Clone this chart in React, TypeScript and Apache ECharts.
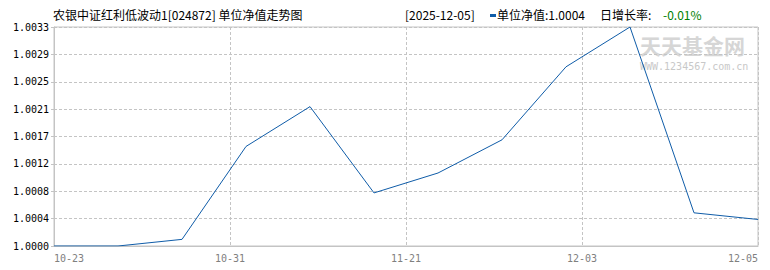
import React, { useEffect, useRef } from "react";
import * as echarts from "echarts";

const fundTitle = "农银中证红利低波动1[024872] 单位净值走势图";
const latestDate = "[2025-12-05]";
const latestNavText = "单位净值:1.0004";
const dailyLabel = "日增长率:";
const dailyChange = "-0.01%";

const dates = ["10-23", "10-24", "10-30", "10-31", "11-07", "11-14", "11-21", "11-28", "12-02", "12-03", "12-04", "12-05"];
const navValues = [1.0, 1.0, 1.0001, 1.0015, 1.0021, 1.0008, 1.0011, 1.0016, 1.0027, 1.0033, 1.0005, 1.0004];
const xTickLabels = ["10-23", "10-31", "11-21", "12-03", "12-05"];
const yTickLabels = ["1.0000", "1.0004", "1.0008", "1.0012", "1.0017", "1.0021", "1.0025", "1.0029", "1.0033"];

const BASE = 1.0;
const SCALE = 10000; // values plotted in units of 0.0001 above BASE
const Y_MAX = 33;
const Y_INTERVAL = Y_MAX / (yTickLabels.length - 1);
const X_MAX = dates.length - 1;
const X_INTERVAL = X_MAX / (xTickLabels.length - 1);

const LINE_COLOR = "#0f5ca8";
const GRID_COLOR = "#c4c4c4";
const MONO = "'DejaVu Sans Mono', monospace";
const CJK = "'Noto Sans CJK SC', sans-serif";

export default function App() {
  const ref = useRef<HTMLDivElement>(null);
  useEffect(() => {
    document.body.style.margin = "0";
    const chart = echarts.init(ref.current!, null, { renderer: "svg" });
    chart.setOption({
      animation: false,
      grid: {
        left: 54,
        right: 12,
        top: 27,
        bottom: 24,
        show: true,
        borderColor: GRID_COLOR,
        borderWidth: 1,
        backgroundColor: "transparent",
      },
      xAxis: {
        type: "value",
        min: 0,
        max: X_MAX,
        interval: X_INTERVAL,
        axisLine: { show: true, lineStyle: { color: GRID_COLOR } },
        axisTick: { show: false },
        splitLine: { show: true, lineStyle: { color: GRID_COLOR, type: [3, 2] } },
        axisLabel: {
          color: "#808080",
          fontFamily: MONO,
          fontSize: 10,
          margin: 7,
          showMinLabel: true,
          showMaxLabel: true,
          alignMinLabel: "left",
          alignMaxLabel: "right",
          formatter: (v: number) => xTickLabels[Math.round(v / X_INTERVAL)] ?? "",
        },
      },
      yAxis: {
        type: "value",
        min: 0,
        max: Y_MAX,
        interval: Y_INTERVAL,
        axisLine: { show: true, lineStyle: { color: GRID_COLOR } },
        axisTick: { show: true, length: 3, lineStyle: { color: GRID_COLOR } },
        splitLine: { show: true, lineStyle: { color: GRID_COLOR, type: [3, 2] } },
        axisLabel: {
          color: "#000",
          fontFamily: MONO,
          fontSize: 10,
          margin: 5,
          showMinLabel: true,
          showMaxLabel: true,
          formatter: (v: number) => yTickLabels[Math.round(v / Y_INTERVAL)] ?? "",
        },
      },
      graphic: [
        {
          type: "text",
          x: 640,
          y: 45,
          z: 0,
          style: {
            text: "天天基金网",
            fill: "#d6d6d6",
            font: `bold 21px ${CJK}`,
            lineHeight: 18,
            textVerticalAlign: "middle",
          },
        },
        {
          type: "text",
          x: 640,
          y: 66,
          z: 0,
          style: {
            text: "WWW.1234567.com.cn",
            fill: "#c8c8c8",
            font: `10px ${MONO}`,
            lineHeight: 9,
            textVerticalAlign: "middle",
          },
        },
        {
          type: "text",
          x: 53,
          y: 14,
          style: { text: fundTitle, fill: "#000", font: `12px ${CJK}`, textVerticalAlign: "middle" },
        },
        {
          type: "text",
          x: 405,
          y: 14,
          style: { text: latestDate, fill: "#000", font: `12px ${CJK}`, textVerticalAlign: "middle" },
        },
        {
          type: "rect",
          shape: { x: 490, y: 14, width: 6, height: 3 },
          style: { fill: LINE_COLOR },
        },
        {
          type: "text",
          x: 497,
          y: 14,
          style: { text: latestNavText, fill: "#000", font: `12px ${CJK}`, textVerticalAlign: "middle" },
        },
        {
          type: "text",
          x: 600,
          y: 14,
          style: { text: dailyLabel, fill: "#000", font: `12px ${CJK}`, textVerticalAlign: "middle" },
        },
        {
          type: "text",
          x: 663,
          y: 14,
          style: { text: dailyChange, fill: "#008000", font: `12px ${CJK}`, textVerticalAlign: "middle" },
        },
      ],
      series: [
        {
          type: "line",
          data: navValues.map((v, i) => [i, (v - BASE) * SCALE]),
          symbol: "none",
          lineStyle: { color: LINE_COLOR, width: 1 },
          z: 5,
        },
      ],
    });
    return () => chart.dispose();
  }, []);
  return <div ref={ref} style={{ width: 770, height: 270 }} />;
}
